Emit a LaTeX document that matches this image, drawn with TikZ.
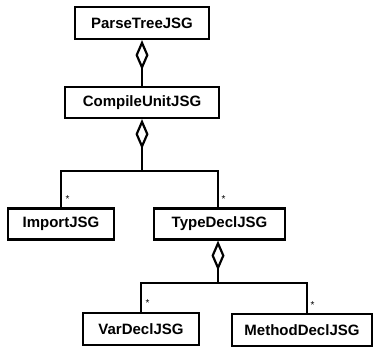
\documentclass[tikz,border=0pt]{standalone}
\usepackage{fontspec}
\setmainfont{Liberation Sans}
\usetikzlibrary{arrows.meta}
\tikzset{
  cls/.style={draw, line width=2.2pt, inner sep=0pt, font=\fontsize{15}{18}\selectfont\bfseries, fill=white},
  link/.style={line width=2.2pt},
  aggr/.style={link, {Diamond[open, length=30pt, width=13pt, line join=miter]}-},
  mult/.style={font=\fontsize{10}{11}\selectfont, inner sep=0pt}
}
\begin{document}
\begin{tikzpicture}[x=1pt,y=-1pt]
\useasboundingbox (0,0) rectangle (374,347);
\node[cls, minimum width=134pt, minimum height=32pt] (pt) at (142,23) {ParseTreeJSG};
\node[cls, minimum width=154pt, minimum height=31pt] (cu) at (142,102.5) {CompileUnitJSG};
\node[cls, minimum width=106pt, minimum height=31pt] (imp) at (61,224) {ImportJSG};
\node[cls, minimum width=131pt, minimum height=31pt] (td) at (219.5,224) {TypeDeclJSG};
\node[cls, minimum width=116pt, minimum height=32pt] (vd) at (141,329) {VarDeclJSG};
\node[cls, minimum width=140pt, minimum height=32pt] (md) at (302,330) {MethodDeclJSG};

\coordinate (b1) at (142,171);
\coordinate (b2) at (218,283);

\draw[aggr] (pt.south) -- (cu.north);
\draw[aggr] (cu.south) -- (b1);
\draw[link] (b1) -| (imp.north);
\draw[link] (b1) -| ([xshift=-1.5pt]td.north);
\draw[aggr] (td.south -| b2) -- (b2);
\draw[link] (b2) -| (vd.north);
\draw[link] (b2) -| ([xshift=5pt]md.north);

\node[mult] (s1) at (67.5,199) {*};
\node[mult] (s2) at (223.5,199) {*};
\node[mult] (s3) at (147.5,303) {*};
\node[mult] (s4) at (312.5,305) {*};
\end{tikzpicture}
\end{document}
